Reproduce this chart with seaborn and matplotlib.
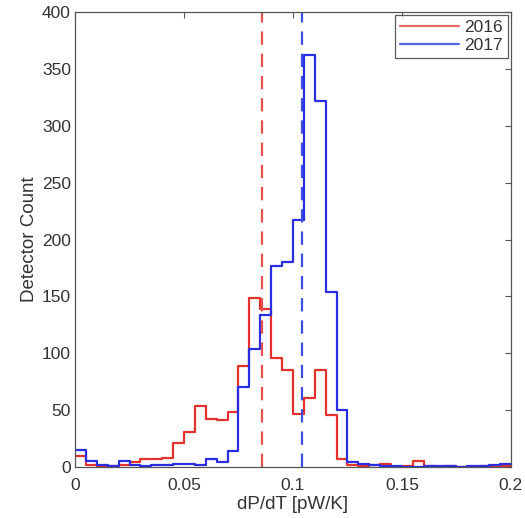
import numpy as np
import pandas as pd
import matplotlib
matplotlib.use("Agg")
import matplotlib.pyplot as plt
from matplotlib.lines import Line2D
import seaborn as sns

# histogram counts per 0.005 bin
bin_edges = [round(0.005 * i, 4) for i in range(41)]
counts_2016 = [10, 2, 1, 1, 2, 4, 7, 7, 8, 21, 31, 54, 42, 41, 48, 89, 149, 139, 96, 85,
               47, 61, 85, 46, 7, 2, 1, 2, 3, 0, 1, 5, 1, 0, 1, 0, 0, 1, 0, 1]
counts_2017 = [15, 5, 2, 1, 5, 2, 1, 2, 2, 3, 3, 2, 7, 4, 14, 70, 104, 134, 177, 180,
               217, 362, 322, 154, 50, 4, 3, 2, 1, 1, 0, 0, 1, 1, 1, 0, 1, 1, 2, 3]
median_2016 = 0.0856
median_2017 = 0.1043
years = ["2016", "2017"]
colors = {"2016": "#e3322c", "2017": "#2a2de0"}
dash_colors = {"2016": "#e5514c", "2017": "#3a4ee0"}

edges = np.array(bin_edges)
centers = (edges[:-1] + edges[1:]) / 2
df = pd.concat([
    pd.DataFrame({"dPdT": centers, "count": counts_2016, "year": "2016"}),
    pd.DataFrame({"dPdT": centers, "count": counts_2017, "year": "2017"}),
], ignore_index=True)

sns.set_theme(style="white")
plt.rcParams["font.family"] = ["Liberation Sans", "DejaVu Sans"]
text_col = "#333333"

fig = plt.figure(figsize=(5.25, 5.18), dpi=100)
ax = fig.add_axes([0.143, 0.0985, 0.830, 0.878])

for yr in years:
    sub = df[df["year"] == yr].reset_index(drop=True)
    sns.histplot(data=sub, x="dPdT", weights="count", bins=bin_edges,
                 element="step", fill=False, color=colors[yr], linewidth=1.6, ax=ax)

ax.axvline(median_2016, color=dash_colors["2016"], linestyle=(0, (6, 4)), linewidth=1.6)
ax.axvline(median_2017, color=dash_colors["2017"], linestyle=(0, (6, 4)), linewidth=1.6)

ax.set_xlim(0, 0.2)
ax.set_ylim(0, 400)
ax.set_xticks([0, 0.05, 0.1, 0.15, 0.2])
ax.set_xticklabels(["0", "0.05", "0.1", "0.15", "0.2"])
ax.set_yticks(np.arange(0, 401, 50))
ax.set_xlabel("dP/dT [pW/K]", fontsize=13.5, color=text_col, labelpad=2)
ax.set_ylabel("Detector Count", fontsize=13.5, color=text_col, labelpad=3)
ax.tick_params(direction="in", length=4, width=0.8, top=True, right=True,
               labelsize=12.5, labelcolor=text_col, color="#555555", pad=3)
ax.tick_params(axis="x", pad=8)
for sp in ax.spines.values():
    sp.set_color("#555555")
    sp.set_linewidth(0.9)

handles = [Line2D([0], [0], color=dash_colors[yr], lw=1.6, alpha=0.85) for yr in years]
leg = ax.legend(handles, years, loc="upper right", fontsize=12.5, frameon=True,
                fancybox=False, borderaxespad=0.15, handlelength=3.4, labelspacing=0.15,
                borderpad=0.3, handletextpad=0.3)
leg.get_frame().set_edgecolor("#333333")
leg.get_frame().set_linewidth(0.9)
for t in leg.get_texts():
    t.set_color(text_col)

fig.savefig("out.png", dpi=100)
